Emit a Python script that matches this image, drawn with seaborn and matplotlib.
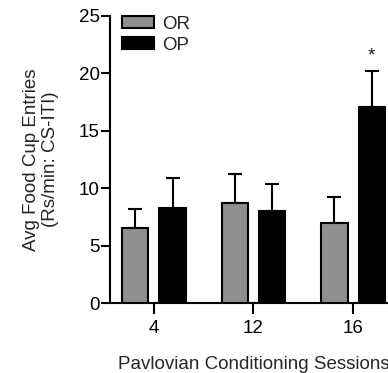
import matplotlib
matplotlib.use("Agg")
import matplotlib.pyplot as plt
import matplotlib.patches as mpatches
import seaborn as sns
import pandas as pd

sessions = ["4", "12", "16"]
groups = ["OR", "OP"]
or_means = [6.5, 8.75, 6.95]
or_sem = [1.66, 2.49, 2.31]
op_means = [8.25, 8.0, 17.1]
op_sem = [2.65, 2.37, 3.14]
colors = ["#8f8f8f", "#000000"]

sns.set_style("ticks")
plt.rcParams["font.family"] = ["Liberation Sans", "DejaVu Sans"]
plt.rcParams["font.size"] = 13.5

df = pd.DataFrame({
    "session": sessions * 2,
    "group": ["OR"] * 3 + ["OP"] * 3,
    "value": or_means + op_means,
})

fig = plt.figure(figsize=(3.88, 3.73), dpi=100)
ax = fig.add_axes([110 / 388, 70 / 373, 287 / 388, 287 / 373])

sns.barplot(data=df, x="session", y="value", hue="group", order=sessions,
            hue_order=groups, palette=colors, width=0.75, gap=0.3,
            edgecolor="black", linewidth=1.5, errorbar=None, legend=False,
            ax=ax, zorder=3)

errs = [or_sem, op_sem]
means = [or_means, op_means]
for cont, m_list, e_list in zip(ax.containers, means, errs):
    for bar, m, e in zip(cont, m_list, e_list):
        xc = bar.get_x() + bar.get_width() / 2
        ax.errorbar(xc, m, yerr=[[0], [e]], fmt="none", ecolor="black",
                    elinewidth=1.5, capsize=5, capthick=1.5, zorder=2)

# significance star above last OP bar
last = ax.containers[1][2]
ax.text(last.get_x() + last.get_width() / 2, op_means[2] + op_sem[2] + 0.5, "*",
        ha="center", va="bottom", fontsize=13.5)

ax.set_ylim(0, 25)
ax.set_xlim(-0.44, 2.44)
ax.set_yticks([0, 5, 10, 15, 20, 25])
sns.despine(ax=ax)
for s in ["left", "bottom"]:
    ax.spines[s].set_linewidth(1.5)
    ax.spines[s].set_color("black")
ax.tick_params(axis="y", length=6.5, width=1.5, pad=1, labelsize=13.5, colors="black")
ax.tick_params(axis="x", length=8, width=1.5, pad=4, labelsize=13.5, colors="black")

ax.set_xlabel("Pavlovian Conditioning Sessions", fontsize=13.5, labelpad=14)
ax.set_ylabel("Avg Food Cup Entries\n(Rs/min: CS-ITI)", fontsize=13.5,
              labelpad=14, linespacing=1.2)

handles = [mpatches.Patch(facecolor=c, edgecolor="black", linewidth=1.5, label=g)
           for c, g in zip(colors, groups)]
ax.legend(handles=handles, loc="upper left", bbox_to_anchor=(0.042, 1.0),
          frameon=False, borderpad=0, borderaxespad=0, handlelength=1.7,
          handleheight=0.6, handletextpad=0.45, labelspacing=0.2,
          fontsize=13.5)

fig.savefig("out.png", dpi=100)
